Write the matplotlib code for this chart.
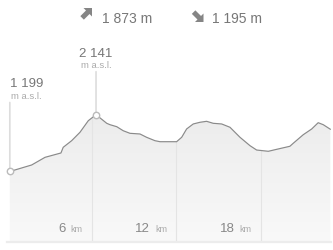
import numpy as np
import matplotlib
matplotlib.use("Agg")
import matplotlib.pyplot as plt
from matplotlib.patches import Polygon
from matplotlib.transforms import IdentityTransform

plt.rcParams['font.family'] = ['Liberation Sans', 'DejaVu Sans']

# ---- data ----
km = [0.2, 1.75, 2.7, 3.83, 3.99, 4.59, 5.18, 5.77, 6.32, 7.08, 7.31, 7.79, 8.25,
      8.73, 9.44, 9.91, 10.5, 10.86, 12.04, 12.4, 12.75, 13.22, 13.7, 14.17, 14.64,
      15.24, 15.83, 16.54, 17.25, 17.72, 18.55, 19.02, 20.08, 20.32, 21.03, 21.63,
      22.09, 22.45, 22.95]
elev = [1199, 1307, 1434, 1506, 1600, 1710, 1849, 2041, 2141, 1998, 1975, 1942, 1875,
        1832, 1821, 1766, 1710, 1693, 1693, 1766, 1904, 1987, 2015, 2031, 1998,
        1987, 1932, 1766, 1627, 1555, 1534, 1560, 1617, 1667, 1809, 1904,
        2008, 1975, 1900]
grid_km = [6, 12, 18]
grid_labels = ["6", "12", "18"]
ascent_label = "1 873 m"
descent_label = "1 195 m"
start_label = "1 199"
peak_label = "2 141"
unit_label = "m a.s.l."

km = np.array(km)
elev = np.array(elev)

W, H = 333, 251
fig = plt.figure(figsize=(W / 100, H / 100), dpi=100)
ax = fig.add_axes([7 / W, 8 / H, 324 / W, 203 / H])
ymin, ymax = 30, 30 + 203 * 16.58
ax.set_xlim(0, 23.0)
ax.set_ylim(ymin, ymax)
ax.axis('off')

# gradient fill under the profile
grad = np.linspace(0, 1, 256).reshape(-1, 1)
img = ax.imshow(grad, extent=[0, 23.0, ymin, elev.max()], origin='lower',
                cmap=matplotlib.colors.LinearSegmentedColormap.from_list(
                    'g', ['#f9f9f9', '#ececec']),
                aspect='auto', zorder=1)
poly = Polygon(np.column_stack([np.r_[km[0], km, km[-1]],
                                np.r_[ymin, elev, ymin]]),
               closed=True, facecolor='none', edgecolor='none')
ax.add_patch(poly)
img.set_clip_path(poly)

# gridlines clipped under the curve
for g in grid_km:
    top = np.interp(g, km, elev)
    ax.plot([g, g], [ymin, top], color='#e4e4e4', lw=0.8, zorder=2)

# bottom baseline
ax.plot([0, 23.0], [ymin, ymin], color='#ececec', lw=1.6, zorder=2, clip_on=False)

# profile line
ax.plot(km, elev, color='#8a8a8a', lw=0.85, zorder=4)

# markers and labels for start and peak
i_peak = int(np.argmax(elev))
for idx, ha, line_off, num_off, unit_off, lab in [
        (0, 'left', 69, 85, 73.5, start_label),
        (i_peak, 'center', 43, 58.5, 47.5, peak_label)]:
    x, y = km[idx], elev[idx]
    ax.annotate('', xy=(x, y), xytext=(0, line_off), textcoords='offset pixels',
                arrowprops=dict(arrowstyle='-', color='#dddddd', lw=1.2,
                                shrinkA=0, shrinkB=0), zorder=3)
    ax.plot([x], [y], marker='o', ms=4.6, mfc='white', mec='#bbbbbb', mew=1,
            zorder=5, clip_on=False)
    ax.annotate(lab, xy=(x, y), xytext=(0, num_off), textcoords='offset pixels',
                ha=ha, va='baseline', fontsize=9.5, color='#777777')
    ax.annotate(unit_label, xy=(x, y), xytext=(1 if ha == 'left' else 0, unit_off),
                textcoords='offset pixels', ha=ha, va='baseline', fontsize=6.8,
                color='#aaaaaa')

# km labels
for g, lab in zip(grid_km, grid_labels):
    ax.annotate('km', xy=(g, ymin), xytext=(-9, 11), textcoords='offset pixels',
                ha='right', va='baseline', fontsize=6.5, color='#aaaaaa')
    ax.annotate(lab, xy=(g, ymin), xytext=(-26, 11), textcoords='offset pixels',
                ha='right', va='baseline', fontsize=9.5, color='#888888')


# header icons: diagonal arrows with right-angled heads (pixel coords, y up)
def diag_arrow(tip, sx, sy, head=8.5, length=14.0, width=5.0, color='#858585'):
    t = np.array(tip, dtype=float)
    hx = t - np.array([sx * head, 0.0])
    hy = t - np.array([0.0, sy * head])
    m = (hx + hy) / 2
    d = np.array([-sx, -sy]) / np.sqrt(2)
    q = (hx - hy) / np.linalg.norm(hx - hy) * width / 2
    tail = t + d * length
    pts = [t, hx, m + q, tail + q, tail - q, m - q, hy]
    fig.add_artist(Polygon(pts, closed=True, facecolor=color, edgecolor='none',
                           transform=IdentityTransform()))


diag_arrow((92, H - 9.0), 1, 1)
diag_arrow((203.5, H - 23), 1, -1)

fig.text(102 / W, (H - 23) / H, ascent_label, ha='left', va='baseline',
         fontsize=10, color='#777777')
fig.text(212 / W, (H - 23) / H, descent_label, ha='left', va='baseline',
         fontsize=10, color='#777777')

fig.savefig('out.png', dpi=100, facecolor='white')
